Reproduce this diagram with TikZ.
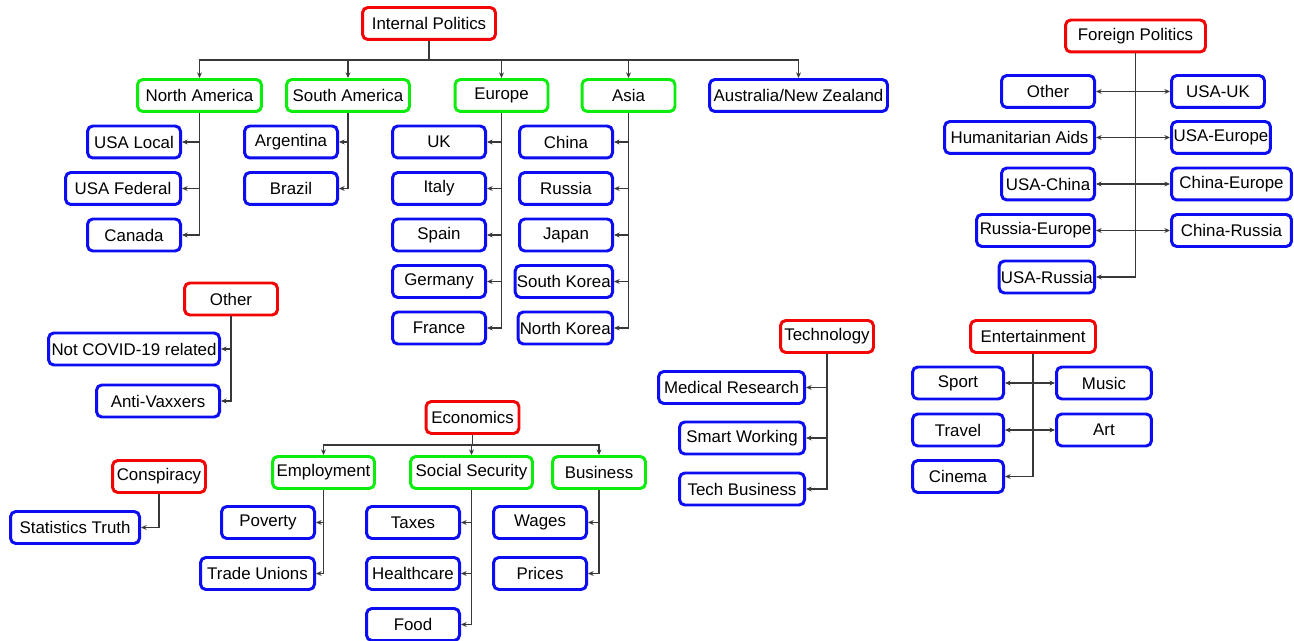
\documentclass[tikz,border=0pt]{standalone}
\usepackage{fontspec}
\setmainfont{Liberation Sans}
\usetikzlibrary{arrows.meta}
\definecolor{boxred}{rgb}{0.95,0.02,0.02}
\definecolor{boxgreen}{rgb}{0.05,0.93,0.05}
\definecolor{boxblue}{rgb}{0.05,0.05,0.95}
\definecolor{linegray}{rgb}{0.22,0.22,0.22}

\begin{document}
\begin{tikzpicture}[x=0.02cm,y=-0.02cm,
  box/.style={draw,rounded corners=3pt,line width=1.7pt,fill=white,minimum width=1.86cm,
    minimum height=0.64cm,inner xsep=1pt,font=\fontsize{9.6}{11}\selectfont},
  topic/.style={box,draw=boxred},
  region/.style={box,draw=boxgreen},
  leaf/.style={box,draw=boxblue},
  arr/.style={-{Stealth[length=3.2pt,width=2.8pt]},line width=0.6pt,draw=linegray},
  dbl/.style={{Stealth[length=3.2pt,width=2.8pt]}-{Stealth[length=3.2pt,width=2.8pt]},line width=0.6pt,draw=linegray}]

  \useasboundingbox (0,0) rectangle (1294,641);

  % internal politics
  \node[topic,minimum width=2.66cm] (ip) at (429,23.5) {Internal Politics};
  \node[region,minimum width=2.48cm] (na) at (199.5,95.5) {North America};
  \node[region,minimum width=2.46cm] (sa) at (348,95.5) {South America};
  \node[region] (eu) at (501.5,95.5) {Europe};
  \node[region] (as) at (628.5,95.5) {Asia};
  \node[leaf,minimum width=3.56cm] (anz) at (798.5,95.5) {Australia/New Zealand};

  \node[leaf,anchor=east] (usal) at (182,142) {USA Local};
  \node[leaf,anchor=east,minimum width=2.3cm] (usaf) at (182,188.5) {USA Federal};
  \node[leaf,anchor=east] (can) at (182,235) {Canada};

  \node[leaf,anchor=east] (arg) at (339,142) {Argentina};
  \node[leaf,anchor=east] (bra) at (339,188.5) {Brazil};

  \node[leaf,anchor=east] (uk) at (487,142) {UK};
  \node[leaf,anchor=east] (ita) at (487,188.5) {Italy};
  \node[leaf,anchor=east] (spa) at (487,235) {Spain};
  \node[leaf,anchor=east] (ger) at (487,281.5) {Germany};
  \node[leaf,anchor=east] (fra) at (487,328) {France};

  \node[leaf,anchor=east] (chi) at (614,142) {China};
  \node[leaf,anchor=east] (rus) at (614,188.5) {Russia};
  \node[leaf,anchor=east] (jap) at (614,235) {Japan};
  \node[leaf,anchor=east] (sko) at (614,281.5) {South Korea};
  \node[leaf,anchor=east] (nko) at (614,328) {North Korea};

  \coordinate (ipbus) at (429,60);
  \foreach \g in {na,sa,eu,as,anz}
    \draw[arr] (ip) -- (ipbus) -| (\g);
  \foreach \c in {usal,usaf,can}
    \draw[arr] (na.south) |- (\c.east);
  \foreach \c in {arg,bra}
    \draw[arr] (sa.south) |- (\c.east);
  \foreach \c in {uk,ita,spa,ger,fra}
    \draw[arr] (eu.south) |- (\c.east);
  \foreach \c in {chi,rus,jap,sko,nko}
    \draw[arr] (as.south) |- (\c.east);

  % foreign politics
  \node[topic,minimum width=2.8cm] (fp) at (1135.5,36) {Foreign Politics};
  \node[leaf,anchor=east] (fpoth) at (1096,91.5) {Other};
  \node[leaf,anchor=east,minimum width=3.0cm] (hum) at (1096,137.5) {Humanitarian Aids};
  \node[leaf,anchor=east] (usch) at (1096,184) {USA-China};
  \node[leaf,anchor=east,minimum width=2.36cm] (rueu) at (1096,230.5) {Russia-Europe};
  \node[leaf,anchor=east] (usru) at (1096,277) {USA-Russia};
  \node[leaf,anchor=west] (usuk) at (1170,91.5) {USA-UK};
  \node[leaf,anchor=west,minimum width=1.98cm] (useu) at (1170,137.5) {USA-Europe};
  \node[leaf,anchor=west,minimum width=2.4cm] (cheu) at (1170,184) {China-Europe};
  \node[leaf,anchor=west,minimum width=2.4cm] (chru) at (1170,230.5) {China-Russia};

  \draw[arr] (fp.south) |- (usru.east);
  \draw[dbl] (fpoth) -- (usuk);
  \draw[dbl] (hum) -- (useu);
  \draw[dbl] (usch) -- (cheu);
  \draw[dbl] (rueu) -- (chru);

  % other
  \node[topic] (oth) at (231,299) {Other};
  \node[leaf,anchor=east,minimum width=3.42cm] (ncr) at (221,349) {Not COVID-19 related};
  \node[leaf,anchor=east,minimum width=2.46cm] (avx) at (221,401) {Anti-Vaxxers};
  \draw[arr] (oth.south) |- (ncr.east);
  \draw[arr] (oth.south) |- (avx.east);

  % technology
  \node[topic] (tec) at (827,336.5) {Technology};
  \node[leaf,anchor=east,minimum width=2.92cm] (mr) at (806,387.5) {Medical Research};
  \node[leaf,anchor=east,minimum width=2.5cm] (sw) at (806,438) {Smart Working};
  \node[leaf,anchor=east,minimum width=2.5cm] (tb) at (806,489) {Tech Business};
  \foreach \c in {mr,sw,tb}
    \draw[arr] (tec.south) |- (\c.east);

  % entertainment
  \node[topic,minimum width=2.5cm] (ent) at (1033,336.5) {Entertainment};
  \node[leaf,anchor=east,minimum width=1.82cm] (spo) at (1005,383) {Sport};
  \node[leaf,anchor=east,minimum width=1.82cm] (tra) at (1005,430) {Travel};
  \node[leaf,anchor=east,minimum width=1.82cm] (cin) at (1005,476.5) {Cinema};
  \node[leaf,anchor=west,minimum width=1.9cm] (mus) at (1055,383) {Music};
  \node[leaf,anchor=west,minimum width=1.9cm] (art) at (1055,430) {Art};
  \draw[arr] (ent.south) |- (cin.east);
  \draw[dbl] (spo) -- (mus);
  \draw[dbl] (tra) -- (art);

  % economics
  \node[topic] (eco) at (472.5,417.5) {Economics};
  \node[region,minimum width=2.04cm] (emp) at (323.5,472.5) {Employment};
  \node[region,minimum width=2.44cm] (ss) at (471.5,472.5) {Social Security};
  \node[region] (bus) at (599,472.5) {Business};

  \node[leaf,anchor=east] (pov) at (316,522.5) {Poverty};
  \node[leaf,anchor=east,minimum width=2.28cm] (tu) at (316,573.5) {Trade Unions};
  \node[leaf,anchor=east] (tax) at (461,522.5) {Taxes};
  \node[leaf,anchor=east] (hea) at (461,573.5) {Healthcare};
  \node[leaf,anchor=east] (foo) at (461,624.5) {Food};
  \node[leaf,anchor=east] (wag) at (588,522.5) {Wages};
  \node[leaf,anchor=east] (pri) at (588,573.5) {Prices};

  \coordinate (ecobus) at (472.5,445);
  \foreach \g in {emp,ss,bus}
    \draw[arr] (eco) -- (ecobus) -| (\g);
  \foreach \c in {pov,tu}
    \draw[arr] (emp.south) |- (\c.east);
  \foreach \c in {tax,hea,foo}
    \draw[arr] (ss.south) |- (\c.east);
  \foreach \c in {wag,pri}
    \draw[arr] (bus.south) |- (\c.east);

  % conspiracy
  \node[topic] (con) at (159,476.5) {Conspiracy};
  \node[leaf,anchor=east,minimum width=2.58cm] (stat) at (141,527.5) {Statistics Truth};
  \draw[arr] (con.south) |- (stat.east);
\end{tikzpicture}
\end{document}
